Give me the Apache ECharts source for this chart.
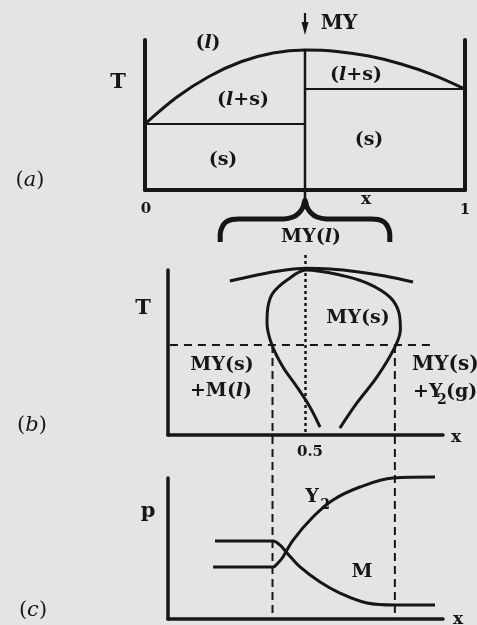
<!DOCTYPE html>
<html>
<head>
<meta charset="utf-8">
<script src="https://cdn.jsdelivr.net/npm/echarts@6/dist/echarts.min.js"></script>
<style>
  html, body { margin: 0; padding: 0; background: #e4e4e2; }
  #chart { width: 477px; height: 625px; }
</style>
</head>
<body>
<div id="chart"></div>
<script>
// (a) T–x phase diagram: liquidus from x = 0 up to the congruent melting point MY, then down to x = 1
const liquidusA = [[0, 0.44], [0.1, 0.62], [0.2, 0.757], [0.3, 0.855], [0.4, 0.913], [0.5, 0.933],
                   [0.6, 0.924], [0.7, 0.893], [0.8, 0.84], [0.9, 0.768], [1, 0.673]];
const solidusLeftA = [[0, 0.44], [0.5, 0.44]];
const solidusRightA = [[0.5, 0.673], [1, 0.673]];
const compoundLineA = [[0.5, 0.933], [0.5, -0.067]];
const arrowA = [[0.5, 1.18], [0.5, 1.077]];
// curly brace under panel (a) spanning the MY(l) region
const braceA = [[0.235, -0.347], [0.235, -0.293], [0.241, -0.247], [0.253, -0.213], [0.272, -0.197],
                [0.294, -0.193], [0.434, -0.193], [0.463, -0.18], [0.481, -0.153], [0.494, -0.113],
                [0.5, -0.067], [0.506, -0.113], [0.519, -0.153], [0.537, -0.18], [0.566, -0.193],
                [0.706, -0.193], [0.728, -0.197], [0.747, -0.213], [0.759, -0.247], [0.765, -0.293],
                [0.765, -0.347]];

// (b) enlarged view around x = 0.5
const liquidArcB = [[0.225, 0.933], [0.324, 0.97], [0.415, 0.997], [0.502, 1.01], [0.589, 1.006],
                    [0.687, 0.99], [0.789, 0.964], [0.891, 0.927]];
const solidFieldB = [[0.553, 0.048], [0.516, 0.17], [0.469, 0.291], [0.418, 0.412], [0.378, 0.545],
                     [0.36, 0.679], [0.364, 0.782], [0.382, 0.861], [0.433, 0.939], [0.502, 1.0],
                     [0.625, 0.97], [0.724, 0.921], [0.807, 0.836], [0.84, 0.74], [0.845, 0.64],
                     [0.825, 0.533], [0.76, 0.352], [0.687, 0.194], [0.625, 0.042]];
const isothermB = [[0.007, 0.545], [0.96, 0.545]];
const leftBoundB = [[0.38, 0.545], [0.38, -1.115]];
const rightBoundB = [[0.825, 0.545], [0.825, -1.115]];
const stoichB = [[0.5, 1.091], [0.5, 0]];

// (c) partial pressures along the isotherm
const pressureM = [[0.171, 0.553], [0.382, 0.553], [0.407, 0.525], [0.433, 0.468], [0.48, 0.369],
                   [0.553, 0.262], [0.625, 0.184], [0.724, 0.113], [0.825, 0.099], [0.971, 0.099]];
const pressureY2 = [[0.164, 0.369], [0.382, 0.369], [0.4, 0.397], [0.418, 0.44], [0.455, 0.56],
                    [0.527, 0.723], [0.6, 0.844], [0.698, 0.936], [0.818, 1.0], [0.971, 1.007]];

const INK = '#161616';
const SERIF = 'DejaVu Serif';

function axisX(grid, w) {
  return { type: 'value', gridIndex: grid, min: 0, max: 1, axisLine: { onZero: false, lineStyle: { color: INK, width: w } },
           axisTick: { show: false }, axisLabel: { show: false }, splitLine: { show: false } };
}
function axisY(grid, w, pos) {
  return { type: 'value', gridIndex: grid, min: 0, max: 1, position: pos,
           axisLine: { show: true, onZero: false, lineStyle: { color: INK, width: w } },
           axisTick: { show: false }, axisLabel: { show: false }, splitLine: { show: false } };
}
function line(data, grid, yIdx, width, type, smooth) {
  return { type: 'line', data: data, xAxisIndex: grid, yAxisIndex: yIdx, symbol: 'none', clip: false,
           smooth: smooth || false, silent: true, animation: false,
           lineStyle: { color: INK, width: width, type: type || 'solid', cap: 'butt' } };
}
function txt(x, y, text, size, opts) {
  opts = opts || {};
  const st = {
    text: text, x: 0, y: 0, fill: INK,
    fontFamily: SERIF, fontSize: size, fontWeight: opts.weight || 'bold', fontStyle: opts.style || 'normal',
    align: opts.align || 'center', verticalAlign: 'middle',
    textAlign: opts.align || 'center', textVerticalAlign: 'middle'
  };
  if (opts.rich) st.rich = opts.rich;
  return { type: 'text', x: x, y: y, silent: true, style: st };
}
function richSet(size, weight) {
  return {
    r: { fontFamily: SERIF, fontSize: size, fontWeight: weight, fill: INK },
    i: { fontFamily: SERIF, fontSize: size, fontWeight: weight, fontStyle: 'italic', fill: INK }
  };
}

const chart = echarts.init(document.getElementById('chart'), null, { renderer: 'canvas' });

const arrowSeries = line([arrowA[0], { value: arrowA[1], symbol: 'triangle', symbolSize: [7, 13], symbolRotate: 180 }], 0, 0, 2.2);
arrowSeries.showSymbol = true;
arrowSeries.symbol = 'none';
arrowSeries.itemStyle = { color: INK };

const rb = richSet(19, 'bold');

chart.setOption({
  backgroundColor: '#e4e4e2',
  animation: false,
  grid: [
    { left: 145, top: 40, width: 320, height: 150 },
    { left: 168, top: 270, width: 275, height: 165 },
    { left: 168, top: 478, width: 275, height: 141 }
  ],
  xAxis: [axisX(0, 4), axisX(1, 3.5), axisX(2, 3.5)],
  yAxis: [axisY(0, 4, 'left'), axisY(0, 4, 'right'), axisY(1, 3.5, 'left'), axisY(2, 3.5, 'left')],
  series: [
    line(liquidusA, 0, 0, 3, 'solid', 0.35),
    line(solidusLeftA, 0, 0, 2),
    line(solidusRightA, 0, 0, 2),
    line(compoundLineA, 0, 0, 2.5),
    arrowSeries,
    line(braceA, 0, 0, 5, 'solid', 0.25),

    line(liquidArcB, 1, 2, 3, 'solid', 0.4),
    line(solidFieldB, 1, 2, 3, 'solid', 0.35),
    line(isothermB, 1, 2, 2, [8, 6]),
    line(leftBoundB, 1, 2, 2, [8, 5]),
    line(rightBoundB, 1, 2, 2, [8, 5]),
    line(stoichB, 1, 2, 2.5, [3, 3]),

    line(pressureM, 2, 3, 3, 'solid', 0.35),
    line(pressureY2, 2, 3, 3, 'solid', 0.35)
  ],
  graphic: [
    // panel (a)
    txt(339, 24, 'MY', 20),
    txt(208, 43, '{r|(}{i|l}{r|)}', 19, { rich: rb }),
    txt(118, 83, 'T', 21),
    txt(243, 100, '{r|(}{i|l}{r|+s)}', 19, { rich: rb }),
    txt(356, 75, '{r|(}{i|l}{r|+s)}', 19, { rich: rb }),
    txt(223, 160, '(s)', 19),
    txt(369, 140, '(s)', 19),
    txt(30, 181, '{r|(}{i|a}{r|)}', 21, { rich: richSet(21, 'normal') }),
    txt(146, 209, '0', 15),
    txt(366, 200, 'x', 17),
    txt(465, 210, '1', 15),
    // panel (b)
    txt(311, 237, '{r|MY(}{i|l}{r|)}', 19, { rich: rb }),
    txt(143, 309, 'T', 21),
    txt(358, 318, 'MY(s)', 19),
    txt(222, 365, 'MY(s)', 19),
    txt(221, 391, '{r|+M(}{i|l}{r|)}', 19, { rich: rb }),
    txt(412, 365, 'MY(s)', 20, { align: 'left' }),
    txt(413, 392, '+Y', 19, { align: 'left' }),
    txt(437, 400, '2', 14, { align: 'left' }),
    txt(446, 392, '(g)', 19, { align: 'left' }),
    txt(32, 426, '{r|(}{i|b}{r|)}', 21, { rich: richSet(21, 'normal') }),
    txt(456, 438, 'x', 17),
    txt(310, 452, '0.5', 15),
    // panel (c)
    txt(312, 497, 'Y', 19),
    txt(325, 505, '2', 14),
    txt(148, 512, 'p', 21),
    txt(362, 572, 'M', 19),
    txt(33, 611, '{r|(}{i|c}{r|)}', 21, { rich: richSet(21, 'normal') }),
    txt(458, 620, 'x', 17)
  ]
});
</script>
</body>
</html>
